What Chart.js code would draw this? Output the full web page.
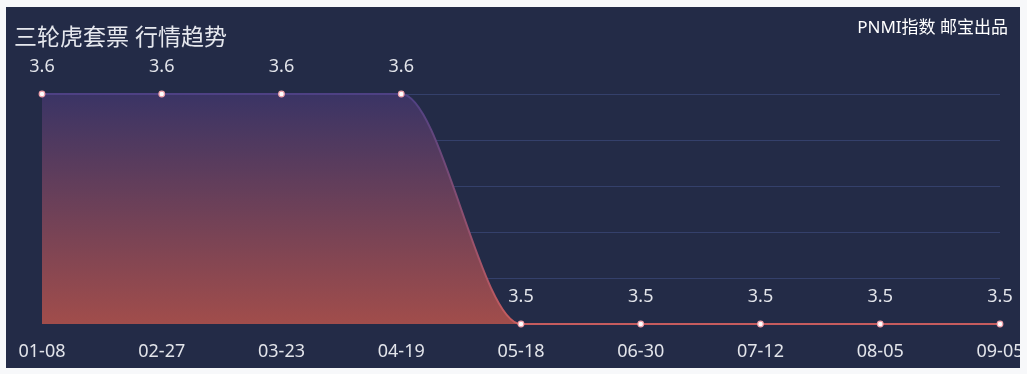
<!DOCTYPE html>
<html>
<head>
<meta charset="utf-8">
<script src="https://cdn.jsdelivr.net/npm/chart.js@4/dist/chart.umd.min.js"></script>
<style>
  html, body { margin: 0; padding: 0; background: #f7f8fa; }
  #panel { position: absolute; left: 6px; top: 7px; width: 1014px; height: 361px; background: #232b47; overflow: hidden; }
</style>
</head>
<body>
<div id="panel"><canvas id="grafico" width="1014" height="361"></canvas></div>
<script>
// datos
const fechas = ["01-08", "02-27", "03-23", "04-19", "05-18", "06-30", "07-12", "08-05", "09-05"];
const precios = [3.6, 3.6, 3.6, 3.6, 3.5, 3.5, 3.5, 3.5, 3.5];
const ejeMin = 3.5, ejeMax = 3.6, ejePaso = 0.02;
const titulo = "三轮虎套票 行情趋势";
const firma = "PNMI指数 邮宝出品";

const fuente = '"Noto Sans", "Noto Sans CJK SC", sans-serif';

// títulos y etiquetas de valor
const textos = {
  id: "textos",
  afterDatasetsDraw(chart) {
    const ctx = chart.ctx;
    ctx.save();
    ctx.fillStyle = "#e6e8ee";
    ctx.textBaseline = "alphabetic";
    ctx.font = "23px " + fuente;
    ctx.textAlign = "left";
    ctx.fillText(titulo, 8, 38);
    ctx.font = "17px " + fuente;
    ctx.textAlign = "right";
    ctx.fillStyle = "#ffffff";
    ctx.fillText(firma, 1002, 26);
    ctx.font = "18px " + fuente;
    ctx.textAlign = "center";
    ctx.fillStyle = "#e2e4ea";
    chart.getDatasetMeta(0).data.forEach((p, i) => {
      ctx.fillText(precios[i].toFixed(1), p.x, p.y - 22);
    });
    ctx.restore();
  }
};

function degradado(c, arriba, abajo) {
  const a = c.chart.chartArea;
  if (!a) return abajo;
  const g = c.chart.ctx.createLinearGradient(0, a.top, 0, a.bottom);
  g.addColorStop(0, arriba);
  g.addColorStop(1, abajo);
  return g;
}

const ctx = document.getElementById("grafico").getContext("2d");
new Chart(ctx, {
  type: "line",
  data: {
    labels: fechas,
    datasets: [{
      data: precios,
      fill: "start",
      clip: 6,
      cubicInterpolationMode: "monotone",
      borderWidth: 2,
      borderColor: c => degradado(c, "#4e4184", "#c65c5e"),
      backgroundColor: c => degradado(c, "#3a3465", "#a14d4b"),
      pointRadius: 2.8,
      pointBorderWidth: 1.2,
      pointBackgroundColor: "#ffffff",
      pointBorderColor: "#f0a2ac"
    }]
  },
  options: {
    responsive: false,
    animation: false,
    layout: { autoPadding: false, padding: { left: 36, right: 20, top: 87, bottom: 7 } },
    plugins: { legend: { display: false }, tooltip: { enabled: false } },
    scales: {
      x: {
        offset: false,
        grid: { display: false, drawTicks: false },
        border: { display: false },
        afterFit: s => { s.height = 37; s.paddingLeft = 0; s.paddingRight = 0; },
        ticks: { color: "#e2e4ea", font: { size: 18, family: fuente }, padding: 17, maxRotation: 0, autoSkip: false }
      },
      y: {
        min: ejeMin,
        max: ejeMax,
        border: { display: false },
        afterFit: s => { s.width = 0; },
        grid: {
          color: c => (c.tick && c.tick.value === ejeMin ? "rgba(0,0,0,0)" : "#34406b"),
          drawTicks: false,
          lineWidth: 1
        },
        ticks: { display: false, stepSize: ejePaso }
      }
    }
  },
  plugins: [textos]
});
</script>
</body>
</html>
